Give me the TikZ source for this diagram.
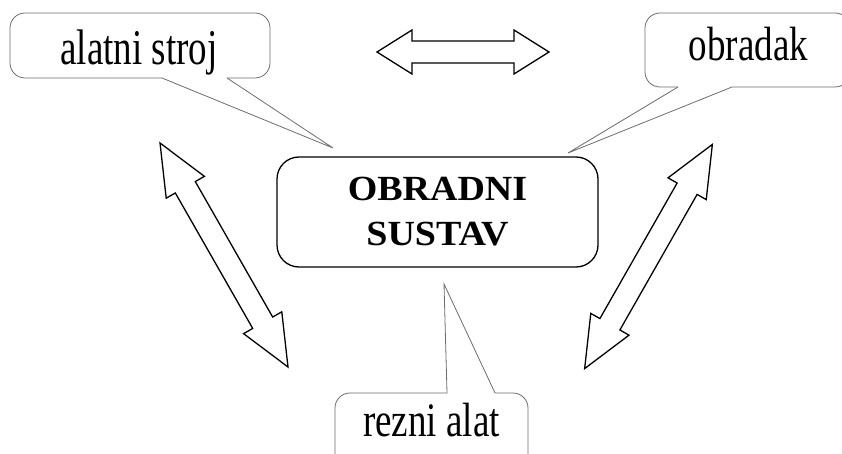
\documentclass[tikz,border=0pt]{standalone}
\usepackage{fontspec}
\setmainfont{Liberation Serif}
\begin{document}
\begin{tikzpicture}[x=1pt,y=-1pt,
  oblacic/.style={draw=gray!85!black,line width=0.8pt},
  glavni/.style={draw,line width=1.3pt,rounded corners=22pt,minimum width=321pt,minimum height=110pt,
    align=center,font=\fontsize{38}{45}\selectfont\bfseries},
  natpis/.style={anchor=base,font=\fontsize{37}{44}\selectfont},
  strelica/.style={draw,line width=1.3pt,line join=miter,fill=white}]
  \useasboundingbox (0,0) rectangle (842,454);
  % glavni okvir
  \node[glavni] (sustav) at (437.5,212) {\scalebox{1}[0.93]{OBRADNI}\\\scalebox{1}[0.93]{SUSTAV}};
  % natpisi
  \node[natpis] (stroj) at (139,64.5) {\scalebox{1}[1.35]{alatni stroj}};
  \node[natpis] (obradak) at (748.5,61) {\scalebox{1}[1.3]{obradak}};
  \node[natpis] (alat) at (431.5,436.5) {\scalebox{1}[1.3]{rezni alat}};
  % vrhovi oblacica
  \coordinate (vrhStroj) at (333,148);
  \coordinate (vrhObradak) at (568,153);
  \coordinate (vrhAlat) at (444,284);
  % oblacic: alatni stroj
  \draw[oblacic] (227,78) -- (vrhStroj) -- (162,78);
  \draw[oblacic,rounded corners=15pt] (162,78) -- (10,78) -- (10,13) -- (270,13) -- (270,78) -- (227,78);
  % oblacic: obradak
  \draw[oblacic] (678,87) -- (vrhObradak) -- (732,87);
  \draw[oblacic,rounded corners=15pt] (732,87) -- (850,87) -- (850,13) -- (645,13) -- (645,87) -- (678,87);
  % oblacic: rezni alat
  \draw[oblacic] (447,393) -- (vrhAlat) -- (495,393);
  \draw[oblacic,rounded corners=15pt] (495,393) -- (528,393) -- (528,480);
  \draw[oblacic,rounded corners=15pt] (447,393) -- (335,393) -- (335,480);
  % gornja strelica
  \draw[strelica] (377,52) -- (412,30) -- (412,41) -- (514,41) -- (514,30) -- (549,52)
    -- (514,74) -- (514,63) -- (412,63) -- (412,74) -- cycle;
  % lijeva strelica
  \begin{scope}[shift={(224,255)},rotate=-60.26]
    \draw[strelica] (-129,0) -- (-78,22) -- (-78,11.5) -- (78,11.5) -- (78,22) -- (129,0)
      -- (78,-22) -- (78,-11.5) -- (-78,-11.5) -- (-78,-22) -- cycle;
  \end{scope}
  % desna strelica
  \begin{scope}[shift={(648.5,256.5)},rotate=60.33]
    \draw[strelica] (-129,0) -- (-78,22) -- (-78,11.5) -- (78,11.5) -- (78,22) -- (129,0)
      -- (78,-22) -- (78,-11.5) -- (-78,-11.5) -- (-78,-22) -- cycle;
  \end{scope}
\end{tikzpicture}
\end{document}
